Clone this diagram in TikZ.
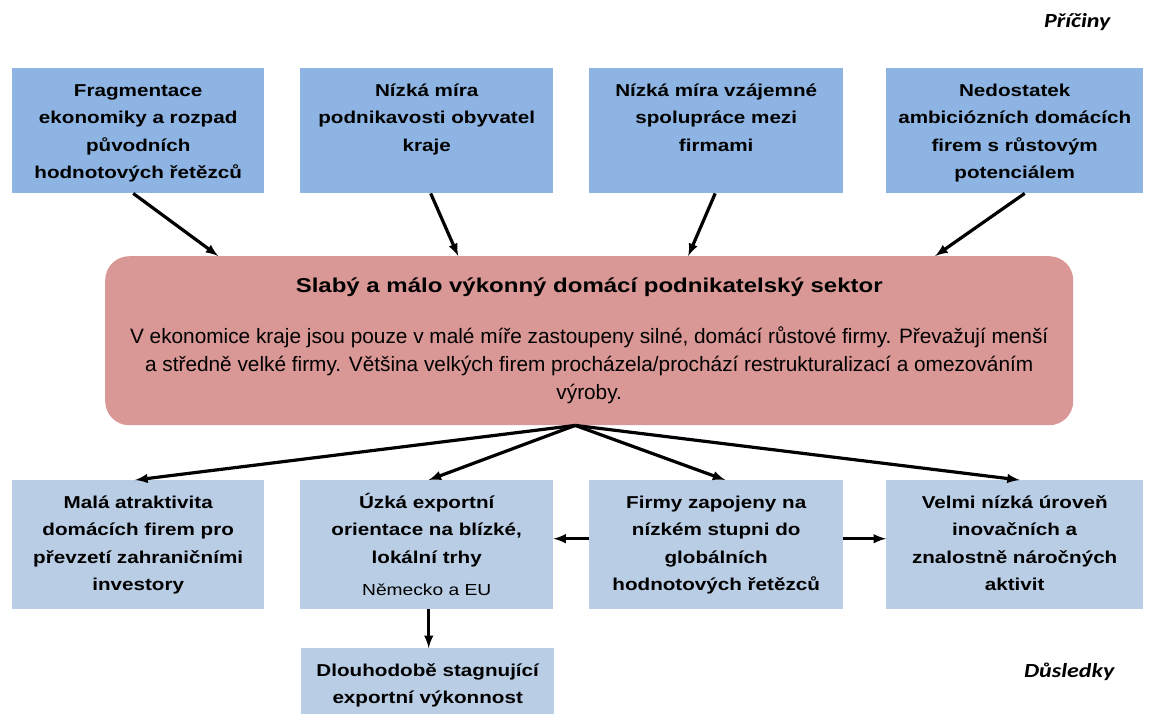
\documentclass[tikz,border=0pt]{standalone}
\usepackage{fontspec}
\setmainfont{Liberation Sans}
\newfontfamily\widefont[FakeStretch=1.2]{Liberation Sans}
\newfontfamily\tagfont[FakeStretch=1.2]{Carlito}
\usepackage{tikz}
\usetikzlibrary{arrows}
\definecolor{causeblue}{HTML}{8DB4E2}
\definecolor{effectblue}{HTML}{B9CDE5}
\definecolor{corered}{HTML}{D99795}
\newcommand{\boxtxt}[3]{\parbox[c][#2pt][t]{#1pt}{\centering\rule{0pt}{28pt}#3}}

\begin{document}
\begin{tikzpicture}[x=1pt,y=-1pt,
  cause/.style={fill=causeblue, inner sep=0pt, anchor=north west,
    font=\widefont\bfseries\fontsize{17.2}{27.5}\selectfont},
  effect/.style={cause, fill=effectblue},
  corebox/.style={fill=corered, rounded corners=24pt, inner sep=0pt, anchor=north west},
  link/.style={-latex, line width=3.2pt},
  tag/.style={anchor=east, font=\tagfont\bfseries\itshape\fontsize{20}{24}\selectfont}]
\useasboundingbox (0,0) rectangle (1150,716);

% causes
\node[cause] (c1) at (12,68) {\boxtxt{252}{125}{Fragmentace\\ ekonomiky a rozpad\\ původních\\ hodnotových řetězců}};
\node[cause] (c2) at (300,68) {\boxtxt{253}{125}{Nízká míra\\ podnikavosti obyvatel\\ kraje}};
\node[cause] (c3) at (589,68) {\boxtxt{254}{125}{Nízká míra vzájemné\\ spolupráce mezi\\ firmami}};
\node[cause] (c4) at (886,68) {\boxtxt{257}{125}{Nedostatek\\ ambiciózních domácích\\ firem s růstovým\\ potenciálem}};

% core problem
\node[corebox] (core) at (105,256) {\parbox[c][169pt][t]{968pt}{\centering
  \fontsize{20.8}{28}\selectfont\rule{0pt}{36pt}{\widefont\bfseries\fontsize{20}{24}\selectfont
  Slabý a málo výkonný domácí podnikatelský sektor}\\[23pt]
  V ekonomice kraje jsou pouze v malé míře zastoupeny silné, domácí růstové firmy. Převažují menší\\
  a středně velké firmy. Většina velkých firem procházela/prochází restrukturalizací a omezováním\\
  výroby.}};

% effects
\node[effect] (e1) at (12,480) {\boxtxt{252}{129}{Malá atraktivita\\ domácích firem pro\\ převzetí zahraničními\\ investory}};
\node[effect] (e2) at (300,480) {\boxtxt{253}{129}{Úzká exportní\\ orientace na blízké,\\ lokální trhy\\[4.5pt]
  {\mdseries\fontsize{16}{20}\selectfont Německo a EU}}};
\node[effect] (e3) at (589,480) {\boxtxt{254}{129}{Firmy zapojeny na\\ nízkém stupni do\\ globálních\\ hodnotových řetězců}};
\node[effect] (e4) at (886,480) {\boxtxt{257}{129}{Velmi nízká úroveň\\ inovačních a\\ znalostně náročných\\ aktivit}};
\node[effect] (e5) at (301,648) {\boxtxt{253}{66}{Dlouhodobě stagnující\\ exportní výkonnost}};

\node[tag] (why) at (1114,22) {Příčiny};
\node[tag] (then) at (1118,672) {Důsledky};

% arrows
\draw[link] ([xshift=-5pt]c1.south) -- ([xshift=-371pt]core.north);
\draw[link] ([xshift=4pt]c2.south) -- ([xshift=-131pt]core.north);
\draw[link] ([xshift=-1pt]c3.south) -- ([xshift=99pt]core.north);
\draw[link] ([xshift=10pt]c4.south) -- ([xshift=346pt]core.north);

\coordinate (hub) at ([xshift=-14pt]core.south);
\draw[link] (hub) -- ([xshift=-3pt]e1.north);
\draw[link] (hub) -- ([xshift=2pt]e2.north);
\draw[link] (hub) -- ([xshift=9pt]e3.north);
\draw[link] (hub) -- ([xshift=5pt]e4.north);

\draw[link] ([yshift=6pt]e3.west) -- ([yshift=6pt]e2.east);
\draw[link] ([yshift=6pt]e3.east) -- ([yshift=6pt]e4.west);
\draw[link] ([xshift=2pt]e2.south) -- ([xshift=1pt]e5.north);
\end{tikzpicture}
\end{document}
